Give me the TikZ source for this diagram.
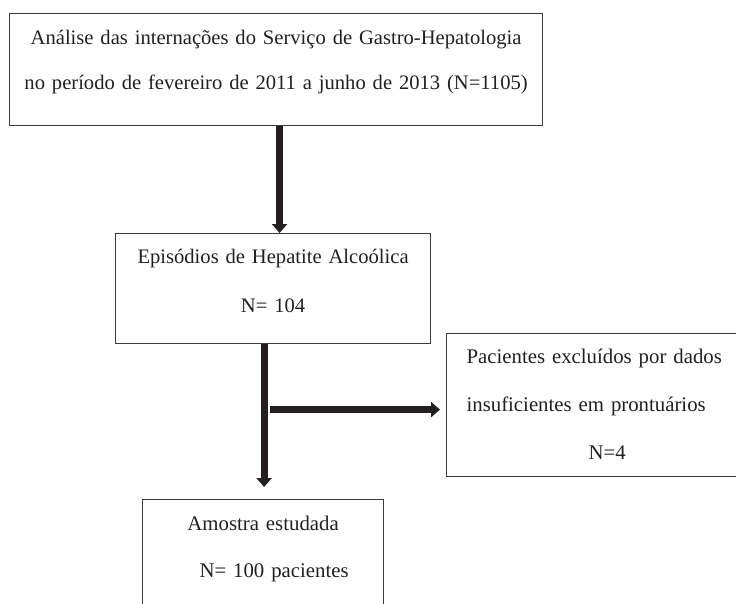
\documentclass[tikz,border=0pt]{standalone}
\usepackage{fontspec}
\setmainfont[WordSpace=0.88]{Liberation Serif}
\usepackage{xcolor}
\usetikzlibrary{arrows.meta}
\definecolor{inkdark}{HTML}{231F20}
\definecolor{boxline}{HTML}{3C3C3C}
\begin{document}
\begin{tikzpicture}[x=1pt,y=-1pt,
		box/.style={draw=boxline, line width=1.2pt, inner sep=0pt, anchor=north west, text=inkdark},
		flow/.style={draw=inkdark, line width=7pt, -{Triangle[width=15pt,length=9pt]}}]
			\useasboundingbox (0,0) rectangle (736,603);
			\clip (0,0) rectangle (736,603);
			\node[box, text width=533pt, align=center, text height=31pt, text depth=81pt, font=\fontsize{20.6}{45}\selectfont] (analise) at (9,13)
				{Análise das internações do Serviço de Gastro-Hepatologia\\no período de fevereiro de 2011 a junho de 2013 (N=1105)};
			\node[box, text width=315pt, align=center, text height=30pt, text depth=80pt, font=\fontsize{20.6}{49}\selectfont] (episodios) at (115,233)
				{Episódios de Hepatite Alcoólica\\N= 104};
			\node[box, text width=300pt, align=left, text height=30pt, text depth=113pt, font=\fontsize{20.8}{48}\selectfont] (excluidos) at (446,333)
				{\hspace*{20pt}\makebox[261pt][s]{Pacientes excluídos por dados}\\\hspace*{20pt}insuficientes em prontuários\\\hspace*{142pt}N=4};
			\node[box, text width=241pt, align=center, text height=31pt, text depth=90pt, font=\fontsize{20.8}{47}\selectfont] (amostra) at (142,499)
				{Amostra estudada\\\hspace*{22pt}N= 100 pacientes};
			\coordinate (a1) at ([xshift=6.5pt]episodios.north);
			\coordinate (tip) at ([xshift=1pt,yshift=12pt]amostra.north);
			\coordinate (trunk) at ([xshift=-9pt]episodios.south);
			\coordinate (side) at ([xshift=-6pt,yshift=-4.5pt]excluidos.west);
			\coordinate (branch) at (side -| trunk);
			\draw[flow] (a1 |- analise.south)--(a1);
			\draw[flow] (trunk)--(trunk |- tip);
			\draw[flow] ([xshift=6pt]branch)--(side);
		\end{tikzpicture}
\end{document}
